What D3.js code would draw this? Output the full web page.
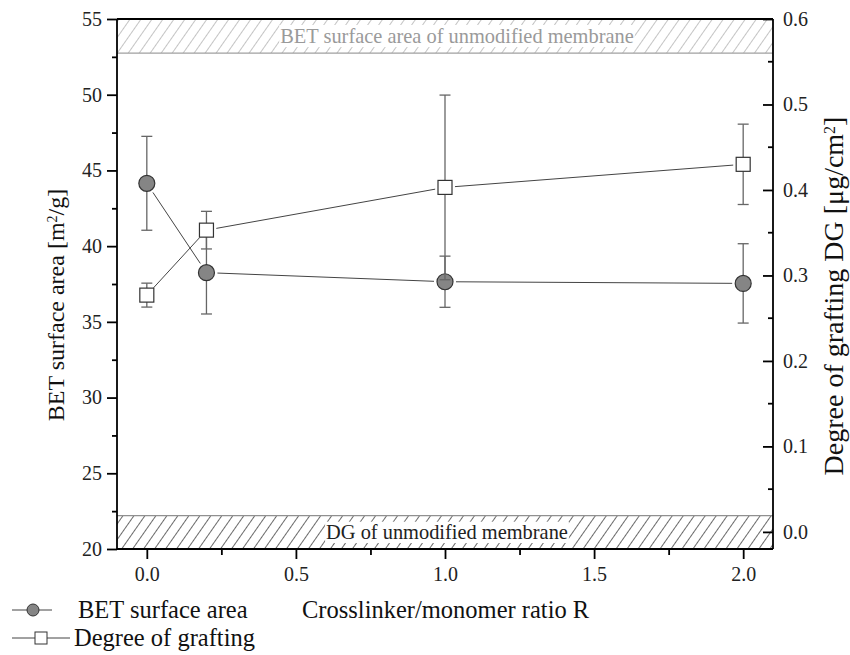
<!DOCTYPE html>
<html>
<head>
<meta charset="utf-8">
<script src="https://cdn.jsdelivr.net/npm/d3@7/dist/d3.min.js"></script>
<style>
  html, body { margin: 0; padding: 0; background: #fff; }
  svg, svg text { font-family: "Liberation Serif", "Times New Roman", serif; }
</style>
</head>
<body>
<svg id="chart" width="850" height="655"></svg>
<script>
// Crosslinker/monomer ratio R
const ratio = [0.0, 0.2, 1.0, 2.0];
// BET surface area [m²/g] with standard deviation
const betArea = [44.15, 38.25, 37.65, 37.54];
const betErr = [3.1, 2.73, 1.69, 2.62];
// Degree of grafting [μg/cm²] with standard deviation
const grafting = [0.277, 0.353, 0.403, 0.430];
const graftingErr = [0.014, 0.022, 0.108, 0.047];
// Reference ranges of the unmodified membrane
const betUnmodified = [52.75, 55];      // left axis units
const dgUnmodified = [-0.02, 0.019];    // right axis units

const xTicks = [0.0, 0.5, 1.0, 1.5, 2.0];
const yLeftTicks = [20, 25, 30, 35, 40, 45, 50, 55];
const yRightTicks = [0.0, 0.1, 0.2, 0.3, 0.4, 0.5, 0.6];

const svg = d3.select("#chart");
const W = 850, H = 655;
const m = { left: 117, right: 77, top: 19, bottom: 106 };
const x0 = m.left, x1 = W - m.right, yTop = m.top, yBot = H - m.bottom;

const x = d3.scaleLinear().domain([-0.1, 2.1]).range([x0, x1]);
const yL = d3.scaleLinear().domain([20, 55]).range([yBot, yTop]);
const yR = d3.scaleLinear().domain([-0.02, 0.6]).range([yBot, yTop]);

// hatch patterns
const defs = svg.append("defs");
function hatch(id, color, sw) {
  const p = defs.append("pattern")
    .attr("id", id).attr("patternUnits", "userSpaceOnUse")
    .attr("width", 9).attr("height", 9)
    .attr("patternTransform", "rotate(35)");
  p.append("line").attr("x1", 0).attr("y1", 0).attr("x2", 0).attr("y2", 9)
    .attr("stroke", color).attr("stroke-width", sw);
}
hatch("hatchTop", "#8a8a8a", 1);
hatch("hatchBot", "#1a1a1a", 1.3);

// top band: BET of unmodified membrane
const topY0 = yL(betUnmodified[1]), topY1 = yL(betUnmodified[0]);
svg.append("rect").attr("x", x0).attr("y", topY0).attr("width", x1 - x0).attr("height", topY1 - topY0)
  .attr("fill", "url(#hatchTop)");
svg.append("line").attr("x1", x0).attr("x2", x1).attr("y1", topY1).attr("y2", topY1)
  .attr("stroke", "#a0a0a0").attr("stroke-width", 1.2);

// bottom band: DG of unmodified membrane
const botY0 = yR(dgUnmodified[1]), botY1 = yR(dgUnmodified[0]);
svg.append("rect").attr("x", x0).attr("y", botY0).attr("width", x1 - x0).attr("height", botY1 - botY0)
  .attr("fill", "url(#hatchBot)");
svg.append("line").attr("x1", x0).attr("x2", x1).attr("y1", botY0).attr("y2", botY0)
  .attr("stroke", "#909090").attr("stroke-width", 1.2);

function bandLabel(text, cx, yA, yB, color) {
  const t = svg.append("text").attr("x", cx).attr("y", (yA + yB) / 2 + 7)
    .attr("text-anchor", "middle").attr("font-size", 20.4).attr("fill", color).text(text);
  const bb = t.node().getBBox();
  svg.insert("rect", () => t.node())
    .attr("x", bb.x - 1).attr("y", yA + 6).attr("width", bb.width + 2).attr("height", yB - yA - 12)
    .attr("fill", "#fff");
}
bandLabel("BET surface area of unmodified membrane", 457, topY0, topY1, "#9a9a9a");
bandLabel("DG of unmodified membrane", 447, botY0, botY1, "#222");

// top frame line
svg.append("line").attr("x1", x0).attr("x2", x1).attr("y1", yTop).attr("y2", yTop)
  .attr("stroke", "#000").attr("stroke-width", 1.8);

// bottom axis
const gx = svg.append("g").attr("transform", `translate(0,${yBot})`)
  .call(d3.axisBottom(x).tickValues(xTicks).tickFormat(d3.format(".1f")).tickSize(10).tickPadding(8));
svg.append("g").attr("transform", `translate(0,${yBot})`)
  .call(d3.axisBottom(x).tickValues([0.25, 0.75, 1.25, 1.75]).tickFormat("").tickSize(6))
  .select(".domain").remove();

// left axis
const gl = svg.append("g").attr("transform", `translate(${x0},0)`)
  .call(d3.axisLeft(yL).tickValues(yLeftTicks).tickFormat(d3.format("d")).tickSize(10).tickPadding(5));
svg.append("g").attr("transform", `translate(${x0},0)`)
  .call(d3.axisLeft(yL).tickValues(d3.range(22.5, 55, 5)).tickFormat("").tickSize(5))
  .select(".domain").remove();

// right axis (ticks point inward)
const gr = svg.append("g").attr("transform", `translate(${x1},0)`)
  .call(d3.axisRight(yR).tickValues(yRightTicks).tickFormat(d3.format(".1f")).tickSize(0).tickPadding(10));
gr.selectAll(".tick line").remove();
gr.selectAll(".tick").append("line").attr("x1", -10).attr("x2", 0);
const grMinor = svg.append("g").attr("transform", `translate(${x1},0)`);
grMinor.selectAll("line").data(d3.range(0.05, 0.6, 0.1)).join("line")
  .attr("x1", -5).attr("x2", 0).attr("y1", d => yR(d)).attr("y2", d => yR(d))
  .attr("stroke", "#000").attr("stroke-width", 1.8);

[gx, gl, gr].forEach(g => {
  g.attr("font-family", null);
  g.select(".domain").attr("stroke", "#000").attr("stroke-width", 1.8);
  g.selectAll(".tick text").attr("font-size", 20).attr("fill", "#222");
});
svg.selectAll(".tick line").attr("stroke", "#000").attr("stroke-width", 1.8);
gr.select(".domain").attr("d", `M0,${yBot}V${yTop}`);
gl.select(".domain").attr("d", `M0,${yBot}V${yTop}`);
gx.select(".domain").attr("d", `M${x0},0H${x1}`);

// axis titles
svg.append("text")
  .attr("transform", `translate(64,305) rotate(-90)`)
  .attr("text-anchor", "middle").attr("font-size", 24).attr("fill", "#111")
  .html('BET surface area [m<tspan baseline-shift="super" font-size="14">2</tspan>/g]');
svg.append("text")
  .attr("transform", `translate(843,296) rotate(-90)`)
  .attr("text-anchor", "middle").attr("font-size", 28).attr("fill", "#111")
  .html('Degree of grafting DG [μg/cm<tspan baseline-shift="super" font-size="16">2</tspan>]');
svg.append("text").attr("x", 302).attr("y", 618)
  .attr("font-size", 24.5).attr("fill", "#111").text("Crosslinker/monomer ratio R");

// series
const bet = ratio.map((r, i) => ({ r, v: betArea[i], e: betErr[i] }));
const dg = ratio.map((r, i) => ({ r, v: grafting[i], e: graftingErr[i] }));

function connect(data, y, gap) {
  const g = svg.append("g");
  for (let i = 0; i < data.length - 1; i++) {
    const ax_ = x(data[i].r), ay = y(data[i].v), bx = x(data[i + 1].r), by = y(data[i + 1].v);
    const len = Math.hypot(bx - ax_, by - ay), ux = (bx - ax_) / len, uy = (by - ay) / len;
    g.append("line")
      .attr("x1", ax_ + ux * gap).attr("y1", ay + uy * gap)
      .attr("x2", bx - ux * gap).attr("y2", by - uy * gap)
      .attr("stroke", "#444").attr("stroke-width", 1);
  }
}
function errorBars(data, y) {
  const g = svg.append("g").attr("stroke", "#666").attr("stroke-width", 1.3);
  data.forEach(d => {
    const cx = x(d.r), yt = y(d.v + d.e), yb = y(d.v - d.e);
    g.append("line").attr("x1", cx).attr("x2", cx).attr("y1", yt).attr("y2", yb);
    g.append("line").attr("x1", cx - 5.5).attr("x2", cx + 5.5).attr("y1", yt).attr("y2", yt);
    g.append("line").attr("x1", cx - 5.5).attr("x2", cx + 5.5).attr("y1", yb).attr("y2", yb);
  });
}

connect(bet, yL, 11);
errorBars(bet, yL);
svg.append("g").selectAll("circle").data(bet).join("circle")
  .attr("cx", d => x(d.r)).attr("cy", d => yL(d.v)).attr("r", 8)
  .attr("fill", "#858585").attr("stroke", "#333").attr("stroke-width", 1.2);

connect(dg, yR, 10);
errorBars(dg, yR);
svg.append("g").selectAll("rect").data(dg).join("rect")
  .attr("x", d => x(d.r) - 7).attr("y", d => yR(d.v) - 7).attr("width", 14).attr("height", 14)
  .attr("fill", "#fff").attr("stroke", "#333").attr("stroke-width", 1.2);

// legend
const lg = svg.append("g");
lg.append("line").attr("x1", 12).attr("x2", 52).attr("y1", 610).attr("y2", 610).attr("stroke", "#444");
lg.append("circle").attr("cx", 33).attr("cy", 610).attr("r", 6)
  .attr("fill", "#858585").attr("stroke", "#333");
lg.append("text").attr("x", 78).attr("y", 618).attr("font-size", 24.5).attr("fill", "#111").text("BET surface area");
lg.append("line").attr("x1", 12).attr("x2", 70).attr("y1", 638).attr("y2", 638).attr("stroke", "#444");
lg.append("rect").attr("x", 35).attr("y", 632).attr("width", 12).attr("height", 12)
  .attr("fill", "#fff").attr("stroke", "#333");
lg.append("text").attr("x", 74).attr("y", 646).attr("font-size", 24.5).attr("fill", "#111").text("Degree of grafting");
</script>
</body>
</html>
